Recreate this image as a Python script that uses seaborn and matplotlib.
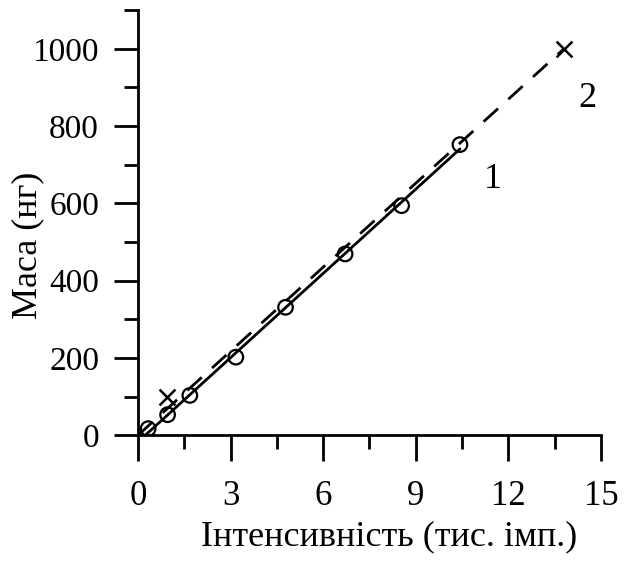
import numpy as np
import pandas as pd
import matplotlib
matplotlib.use("Agg")
import matplotlib.pyplot as plt
import seaborn as sns
from matplotlib.ticker import MultipleLocator

# Data
circle_x = [0.33, 0.96, 1.68, 3.17, 4.78, 6.71, 8.54, 10.43]
circle_y = [17, 53, 103, 202, 331, 469, 594, 752]
cross_x = [0.95, 13.8]
cross_y = [99, 1000]
line1_x = [0.12, 10.43]          # extent of solid fit line (curve 1)
line2_x = [0.0, 13.8]            # extent of dashed line (curve 2, through origin)
curve_labels = ["1", "2"]
label_pos_x = [11.5, 14.55]
label_pos_y = [663, 871]
x_ticks = [0, 3, 6, 9, 12, 15]
y_ticks = [0, 200, 400, 600, 800, 1000]

# Fits
k1, b1 = np.polyfit(circle_x, circle_y, 1)
line1_y = [k1 * v + b1 for v in line1_x]
k2 = cross_y[-1] / cross_x[-1]
line2_y = [k2 * v for v in line2_x]

df_c = pd.DataFrame({"x": circle_x, "y": circle_y})
df_x = pd.DataFrame({"x": cross_x, "y": cross_y})
df_l1 = pd.DataFrame({"x": line1_x, "y": line1_y})
df_l2 = pd.DataFrame({"x": line2_x, "y": line2_y})

sns.set_theme(style="ticks")
plt.rcParams["font.family"] = ["Liberation Serif", "DejaVu Serif"]

fig = plt.figure(figsize=(6.3, 5.63), dpi=100)
ax = fig.add_axes([0.219, 0.227, 0.735, 0.755])

sns.lineplot(data=df_l2, x="x", y="y", ax=ax, color="black", lw=2.0,
             linestyle=(0, (7, 5)), estimator=None, sort=False)
sns.lineplot(data=df_l1, x="x", y="y", ax=ax, color="black", lw=2.0,
             estimator=None, sort=False)
sns.scatterplot(data=df_c, x="x", y="y", ax=ax, marker="o", s=110,
                facecolors="none", edgecolor="black", linewidth=1.6, zorder=5)
sns.scatterplot(data=df_x, x="x", y="y", ax=ax, marker="x", s=130,
                color="black", linewidth=1.8, zorder=5)

for t, lx, ly in zip(curve_labels, label_pos_x, label_pos_y):
    ax.text(lx, ly, t, fontsize=26, ha="center", va="center", color="black")

ax.set_xlim(0, 15)
ax.set_ylim(0, 1100)
ax.set_xticks(x_ticks)
ax.set_yticks(y_ticks)
ax.xaxis.set_minor_locator(MultipleLocator(1.5))
ax.yaxis.set_minor_locator(MultipleLocator(100))
ax.tick_params(axis="x", which="major", length=19, width=2, labelsize=25,
               pad=13, color="black", labelcolor="black", direction="out")
ax.tick_params(axis="y", which="major", length=17, width=2, labelsize=24,
               pad=11, color="black", labelcolor="black", direction="out")
ax.tick_params(axis="both", which="minor", length=10, width=2, color="black",
               direction="out")
for side in ["top", "right"]:
    ax.spines[side].set_visible(False)
for side in ["left", "bottom"]:
    ax.spines[side].set_linewidth(2)
    ax.spines[side].set_color("black")

ax.set_xlabel("Інтенсивність (тис. імп.)", fontsize=26, color="black")
ax.set_ylabel("Маса (нг)", fontsize=26, color="black")
ax.xaxis.label.set_verticalalignment("center")
ax.yaxis.label.set_verticalalignment("center")
ax.xaxis.set_label_coords(0.542, -0.24)
ax.yaxis.set_label_coords(-0.238, 0.447)

fig.savefig("out.png", dpi=100)
